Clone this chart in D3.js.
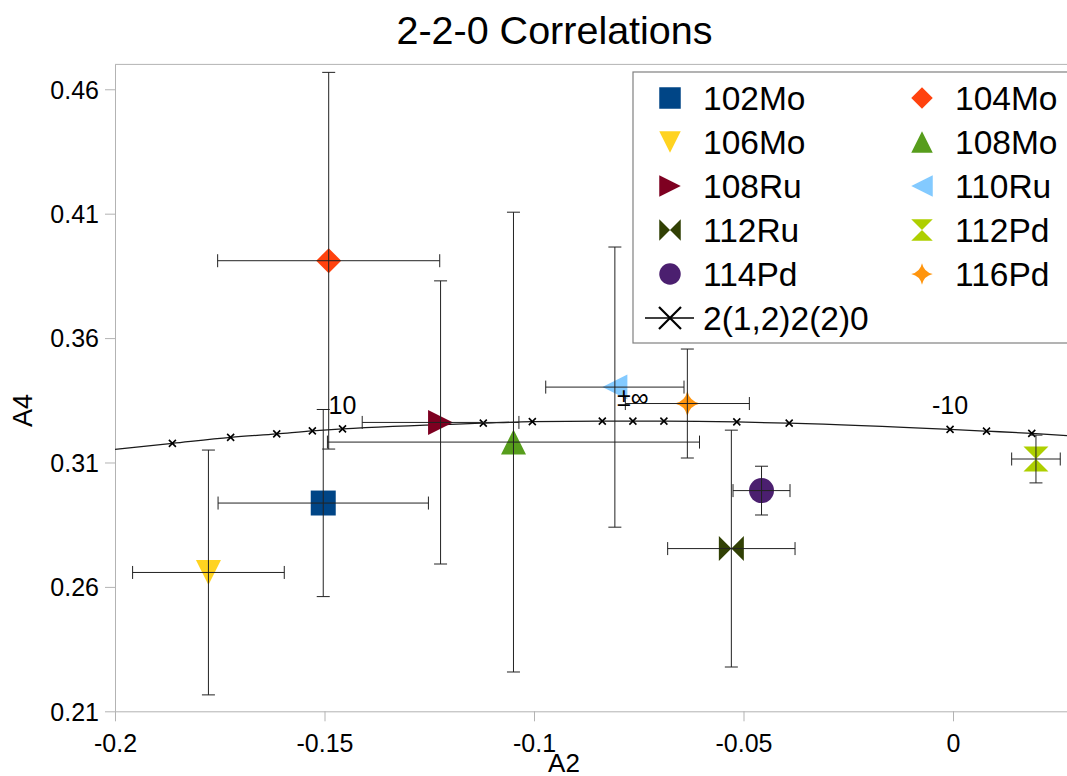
<!DOCTYPE html>
<html>
<head>
<meta charset="utf-8">
<script src="https://cdn.jsdelivr.net/npm/d3@7"></script>
<style>
	body { margin: 0; background: #fff; }
	svg { display: block; font-family: 'Liberation Sans', Arial, sans-serif; }
</style>
</head>
<body>
<svg id="chart" width="1067" height="776"></svg>
<script>
// nuclei
var names = ['102Mo', '104Mo', '106Mo', '108Mo', '108Ru', '110Ru', '112Ru', '112Pd', '114Pd', '116Pd'];
var a2 = [-0.1503, -0.1490, -0.1777, -0.1049, -0.1223, -0.0807, -0.0529, 0.0198, -0.0457, -0.0634];
var a2Err = [0.0251, 0.0265, 0.0181, 0.0444, 0.0187, 0.0165, 0.0152, 0.0058, 0.0068, 0.0148];
var a4 = [0.2937, 0.3911, 0.2658, 0.3182, 0.3261, 0.3403, 0.2754, 0.3114, 0.2987, 0.3337];
var a4Err = [0.0376, 0.0757, 0.0492, 0.0924, 0.0569, 0.0563, 0.0476, 0.0096, 0.0098, 0.0219];
var symbols = ['square', 'diamond', 'down', 'up', 'right', 'left', 'bowtie', 'hourglass', 'circle', 'star'];
var colors = ['#004586', '#ff420e', '#ffd320', '#579d1c', '#7e0021', '#83caff', '#314004', '#aecf00', '#4b1f6f', '#ff950e'];

// 2(1,2)2(2)0 curve
var curveName = '2(1,2)2(2)0';
var curveA2 = [-0.2, -0.1863, -0.1724, -0.1614, -0.1529, -0.1457, -0.1121, -0.1004, -0.0837, -0.0764, -0.0690, -0.0516, -0.0391, -0.0007, 0.0080, 0.0188, 0.0272];
var curveA4 = [0.3153, 0.3177, 0.3201, 0.3215, 0.3227, 0.3235, 0.3258, 0.3264, 0.3266, 0.3266, 0.3266, 0.3263, 0.3258, 0.3233, 0.3226, 0.3217, 0.3208];
var curveMark = [false, true, true, true, true, true, true, true, true, true, true, true, true, true, true, true, false];
var curveLabel = ['', '', '', '', '', '10', '', '', '', '±∞', '', '', '', '-10', '', '', ''];

var xTicks = [-0.2, -0.15, -0.1, -0.05, 0];
var yTicks = [0.21, 0.26, 0.31, 0.36, 0.41, 0.46];

var svg = d3.select('#chart');

// plot box (window.top is taken, so short names)
var pL = 115, pR = 1078.7, pT = 64.4, pB = 711.3;

var x = d3.scaleLinear().domain([-0.2, 0.03]).range([pL, pR]);
var y = d3.scaleLinear().domain([0.21, 0.47]).range([pB, pT]);

function symbolPath (type, s) {
	var h = s / 2;
	if (type == 'square') return 'M' + -h + ',' + -h + 'H' + h + 'V' + h + 'H' + -h + 'Z';
	if (type == 'diamond') return 'M0,' + -h + 'L' + h + ',0L0,' + h + 'L' + -h + ',0Z';
	if (type == 'down') return 'M' + -h + ',' + -h + 'H' + h + 'L0,' + h + 'Z';
	if (type == 'up') return 'M0,' + -h + 'L' + h + ',' + h + 'H' + -h + 'Z';
	if (type == 'right') return 'M' + -h + ',' + -h + 'L' + h + ',0L' + -h + ',' + h + 'Z';
	if (type == 'left') return 'M' + h + ',' + -h + 'L' + -h + ',0L' + h + ',' + h + 'Z';
	if (type == 'bowtie') return 'M' + -h + ',' + -h + 'L' + h + ',' + h + 'V' + -h + 'L' + -h + ',' + h + 'Z';
	if (type == 'hourglass') return 'M' + -h + ',' + -h + 'H' + h + 'L' + -h + ',' + h + 'H' + h + 'Z';
	if (type == 'circle') return 'M' + h + ',0A' + h + ',' + h + ' 0 1,1 ' + -h + ',0A' + h + ',' + h + ' 0 1,1 ' + h + ',0Z';
	if (type == 'star') {
		var c = h * 0.18;
		return 'M0,' + -h + 'Q' + c + ',' + -c + ' ' + h + ',0Q' + c + ',' + c + ' 0,' + h +
			'Q' + -c + ',' + c + ' ' + -h + ',0Q' + -c + ',' + -c + ' 0,' + -h + 'Z';
	}
}

function crossPath (s) {
	var h = s / 2;
	return 'M' + -h + ',' + -h + 'L' + h + ',' + h + 'M' + h + ',' + -h + 'L' + -h + ',' + h;
}

function fmt (v) {
	return String(v);
}

// title
svg.append('text')
	.attr('x', 554.5)
	.attr('y', 44)
	.attr('text-anchor', 'middle')
	.attr('font-size', 39.5)
	.text('2-2-0 Correlations');

// axes
var gx = svg.append('g')
	.attr('transform', 'translate(0,' + pB + ')')
	.call(d3.axisBottom(x).tickValues(xTicks).tickFormat(fmt).tickSize(10).tickSizeOuter(0).tickPadding(13));

var gy = svg.append('g')
	.attr('transform', 'translate(' + pL + ',0)')
	.call(d3.axisLeft(y).tickValues(yTicks).tickFormat(fmt).tickSize(10).tickSizeOuter(0).tickPadding(6));

svg.selectAll('.domain, .tick line').attr('stroke', '#b3b3b3');
svg.selectAll('.tick text').attr('font-size', 25).attr('fill', '#000').attr('font-family', 'Liberation Sans, Arial, sans-serif');
gy.selectAll('.tick text').attr('dy', '0.35em');

svg.append('line')
	.attr('x1', pL)
	.attr('x2', pR)
	.attr('y1', pT)
	.attr('y2', pT)
	.attr('stroke', '#b3b3b3');

svg.append('text')
	.attr('x', 564)
	.attr('y', 772)
	.attr('text-anchor', 'middle')
	.attr('font-size', 26)
	.text('A2');

svg.append('text')
	.attr('transform', 'translate(32,410.5) rotate(-90)')
	.attr('text-anchor', 'middle')
	.attr('font-size', 27)
	.text('A4');

svg.append('clipPath')
	.attr('id', 'plot-clip')
	.append('rect')
	.attr('x', pL)
	.attr('y', pT)
	.attr('width', pR - pL)
	.attr('height', pB - pT);

var plot = svg.append('g').attr('clip-path', 'url(#plot-clip)');

// curve
var curvePts = curveA2.map(function (v, k) { return [v, curveA4[k]]; });

plot.append('path')
	.datum(curvePts)
	.attr('d', d3.line().x(function (d) { return x(d[0]); }).y(function (d) { return y(d[1]); }).curve(d3.curveMonotoneX))
	.attr('fill', 'none')
	.attr('stroke', '#1a1a1a')
	.attr('stroke-width', 1.3);

plot.selectAll('.cmark')
	.data(curvePts.filter(function (d, k) { return curveMark[k]; }))
	.enter()
	.append('path')
	.attr('class', 'cmark')
	.attr('transform', function (d) { return 'translate(' + x(d[0]) + ',' + y(d[1]) + ')'; })
	.attr('d', crossPath(7))
	.attr('stroke', '#000')
	.attr('stroke-width', 1.6);

// points
var idx = d3.range(names.length);

plot.selectAll('.pt')
	.data(idx)
	.enter()
	.append('path')
	.attr('class', 'pt')
	.attr('transform', function (i) { return 'translate(' + x(a2[i]) + ',' + y(a4[i]) + ')'; })
	.attr('d', function (i) { return symbolPath(symbols[i], 25); })
	.attr('fill', function (i) { return colors[i]; });

// error bars on top of the markers
var cap = 6.5;
var err = plot.selectAll('.err')
	.data(idx)
	.enter()
	.append('g')
	.attr('class', 'err')
	.attr('stroke', '#222')
	.attr('stroke-width', 1);

err.append('path')
	.attr('fill', 'none')
	.attr('d', function (i) {
		var cx = x(a2[i]), cy = y(a4[i]);
		var x0 = x(a2[i] - a2Err[i]), x1 = x(a2[i] + a2Err[i]);
		var y0 = y(a4[i] + a4Err[i]), y1 = y(a4[i] - a4Err[i]);
		return 'M' + x0 + ',' + cy + 'H' + x1 +
			'M' + x0 + ',' + (cy - cap) + 'V' + (cy + cap) +
			'M' + x1 + ',' + (cy - cap) + 'V' + (cy + cap) +
			'M' + cx + ',' + y0 + 'V' + y1 +
			'M' + (cx - cap) + ',' + y0 + 'H' + (cx + cap) +
			'M' + (cx - cap) + ',' + y1 + 'H' + (cx + cap);
	});

// curve labels last, they sit over the bars
plot.selectAll('.clabel')
	.data(curvePts.map(function (d, k) { return [d[0], d[1], curveLabel[k]]; }).filter(function (d) { return d[2] != ''; }))
	.enter()
	.append('text')
	.attr('class', 'clabel')
	.attr('x', function (d) { return x(d[0]); })
	.attr('y', function (d) { return y(d[1]) - 15; })
	.attr('text-anchor', 'middle')
	.attr('font-size', 25)
	.text(function (d) { return d[2]; });

// legend
svg.append('rect')
	.attr('x', 633)
	.attr('y', 72)
	.attr('width', 460)
	.attr('height', 271)
	.attr('fill', '#fff')
	.attr('stroke', '#808080')
	.attr('stroke-width', 1.2);

var leg = svg.selectAll('.leg')
	.data(idx)
	.enter()
	.append('g')
	.attr('class', 'leg')
	.attr('transform', function (i) { return 'translate(' + (670 + (i % 2) * 252) + ',' + (98 + Math.floor(i / 2) * 44) + ')'; });

leg.append('path')
	.attr('d', function (i) { return symbolPath(symbols[i], 21.5); })
	.attr('fill', function (i) { return colors[i]; });

leg.append('text')
	.attr('x', 33)
	.attr('y', 11.5)
	.attr('font-size', 33.5)
	.text(function (i) { return names[i]; });

var lc = svg.append('g').attr('transform', 'translate(670,318)');

lc.append('line')
	.attr('x1', -25)
	.attr('x2', 24)
	.attr('stroke', '#000')
	.attr('stroke-width', 1.3);

lc.append('path')
	.attr('d', crossPath(22))
	.attr('stroke', '#000')
	.attr('stroke-width', 2.2);

lc.append('text')
	.attr('x', 33)
	.attr('y', 11.5)
	.attr('font-size', 33.5)
	.text(curveName);
</script>
</body>
</html>
